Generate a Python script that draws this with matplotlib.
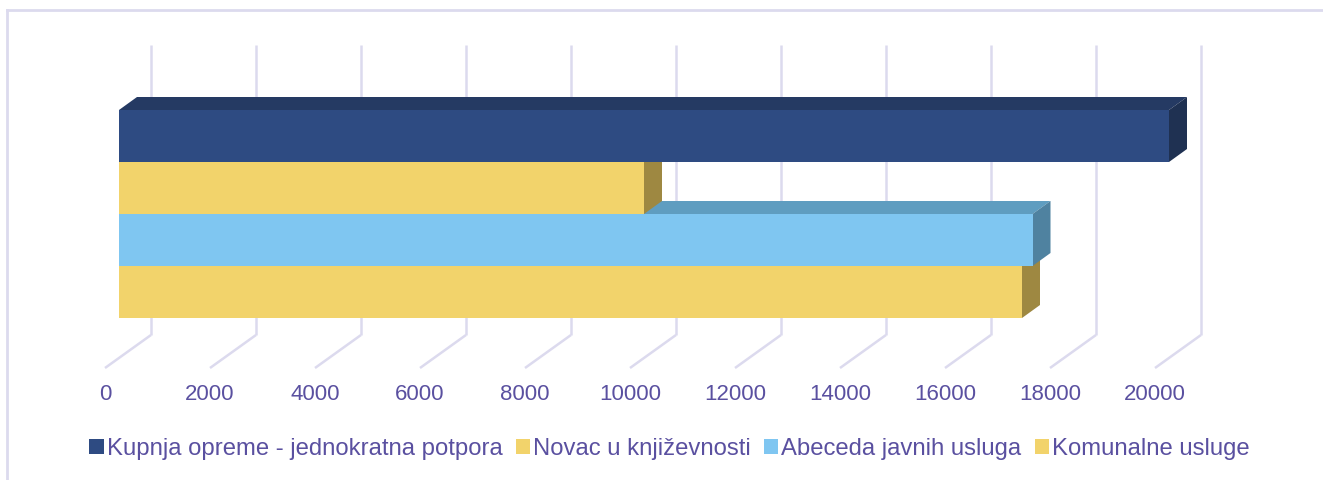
import matplotlib
matplotlib.use('Agg')
import matplotlib.pyplot as plt
from matplotlib.patches import Polygon, Patch
from matplotlib.lines import Line2D

categories = ['Kupnja opreme - jednokratna potpora', 'Novac u književnosti',
              'Abeceda javnih usluga', 'Komunalne usluge']
values = [20000, 10000, 17400, 17200]
front_colors = ['#2E4B82', '#F2D36B', '#7FC6F1', '#F2D36B']
top_colors = ['#253A63', '#C9AF57', '#5F9DC0', '#C9AF57']
side_colors = ['#1F3152', '#9E8841', '#4F82A0', '#9E8841']
ticks = list(range(0, 20001, 2000))
tick_labels = [str(t) for t in ticks]

plt.rcParams['font.family'] = ['Liberation Sans', 'DejaVu Sans']
TEXT = '#5A50A0'
GRID = '#DCDAEE'

W, H = 1323, 480
fig = plt.figure(figsize=(W / 100, H / 100), dpi=100)
ax = fig.add_axes([0, 0, 1, 1])
PX_PER_UNIT = 0.0525
X0 = 119
PX_PER_CAT = 52
Y0 = 136
ax.set_xlim(-X0 / PX_PER_UNIT, (W - X0) / PX_PER_UNIT)
ax.set_ylim((H - Y0) / PX_PER_CAT, -Y0 / PX_PER_CAT)
ax.axis('off')


def ox(px):
    return px / PX_PER_UNIT


def oy(px):
    return px / PX_PER_CAT


def sy(px):
    return (px - Y0) / PX_PER_CAT


# back wall gridlines and floor lines
WALL_DX = ox(32)
FRONT_DX = ox(-14)
for t in ticks:
    ax.plot([t + WALL_DX, t + WALL_DX], [sy(45), sy(335)], color=GRID, lw=1.8,
            solid_capstyle='butt', zorder=1)
    ax.plot([t + WALL_DX, t + FRONT_DX], [sy(335), sy(368)], color=GRID, lw=1.8,
            solid_capstyle='butt', zorder=1)
for t, lab in zip(ticks, tick_labels):
    ax.text(t + FRONT_DX, sy(394), lab, ha='center', va='center', fontsize=16,
            color=TEXT)

# 3D bars (drawn bottom to top so upper bars sit in front)
DX, DY = ox(18), oy(-13)
n = len(values)
z = 2
for i in reversed(range(n)):
    v = values[i]
    yt, yb = i - 0.5, i + 0.5
    front = Polygon([(0, yt), (v, yt), (v, yb), (0, yb)], closed=True,
                    facecolor=front_colors[i], edgecolor='none', zorder=z)
    top = Polygon([(0, yt), (DX, yt + DY), (v + DX, yt + DY), (v, yt)], closed=True,
                  facecolor=top_colors[i], edgecolor='none', zorder=z)
    side = Polygon([(v, yt), (v + DX, yt + DY), (v + DX, yb + DY), (v, yb)], closed=True,
                   facecolor=side_colors[i], edgecolor='none', zorder=z)
    for p in (top, side, front):
        ax.add_patch(p)
    z += 1

handles = [Patch(facecolor=c, edgecolor='none') for c in front_colors]
fig.legend(handles=handles, labels=categories, ncol=4, loc='center',
           bbox_to_anchor=(0.506, 1 - 449 / H), frameon=False, fontsize=17.2,
           handlelength=0.6, handleheight=0.6, handletextpad=0.12,
           columnspacing=0.56, labelcolor=TEXT)

# outer border
fig.add_artist(Line2D([7 / W, 7 / W], [0, 1 - 10 / H], transform=fig.transFigure,
                      color=GRID, lw=2))
fig.add_artist(Line2D([7 / W, 1], [1 - 10 / H, 1 - 10 / H], transform=fig.transFigure,
                      color=GRID, lw=2))

fig.savefig('out.png', dpi=100)
